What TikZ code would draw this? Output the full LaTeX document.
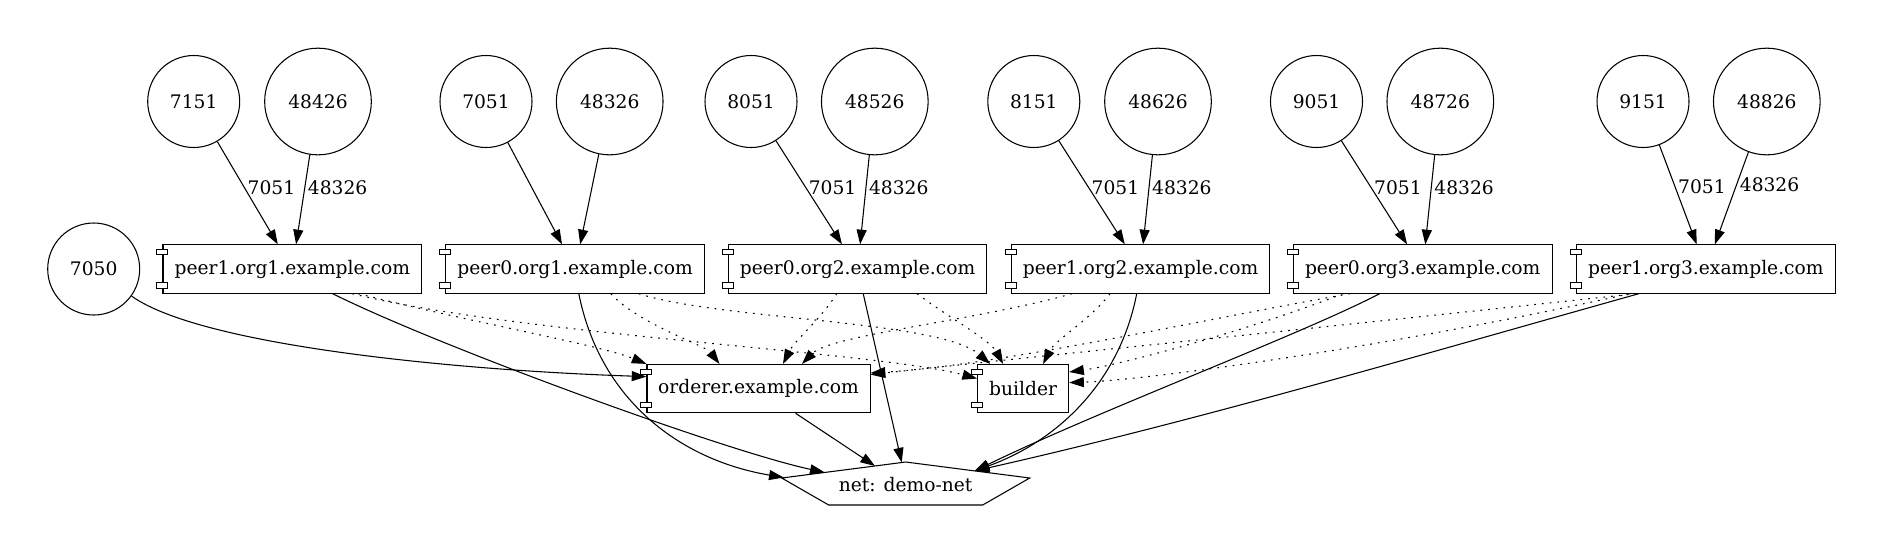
\documentclass[tikz,border=0pt]{standalone}
\usepackage{fontspec}
\setmainfont{DejaVu Serif}
\usetikzlibrary{arrows.meta,calc}

\begin{document}
\begin{tikzpicture}[x=0.75pt,y=-0.75pt,line width=.8pt,
			font=\fontsize{14pt}{17pt}\selectfont,
			port/.style={draw,circle,minimum size=69pt,inner sep=0pt},
			wport/.style={port,minimum size=80pt},
			comp/.style={draw,rectangle,minimum width=194pt,minimum height=36.2pt,inner sep=0pt,fill=white},
			link/.style={-{Triangle[length=11pt,width=7.5pt]}},
			dep/.style={link,dash pattern=on 1.3pt off 4.5pt},
			lbl/.style={anchor=west,inner sep=2pt}]
			\useasboundingbox (0,0) rectangle (1883,558);
			\node (p1o1) [comp] at (292.3,269) {peer1.org1.example.com};
			\node (p0o1) [comp] at (575.1,269) {peer0.org1.example.com};
			\node (p0o2) [comp] at (857.6,269) {peer0.org2.example.com};
			\node (p1o2) [comp] at (1140.5,269) {peer1.org2.example.com};
			\node (p0o3) [comp] at (1422.7,269) {peer0.org3.example.com};
			\node (p1o3) [comp] at (1705.9,269) {peer1.org3.example.com};
			\node (ord) [comp,minimum width=167.3pt] at (758.5,388.6) {orderer.example.com};
			\node (bld) [comp,minimum width=68.3pt] at (1023.1,388.6) {builder};
			\node (net) at (905.7,485) {net: demo-net};
			\draw ($(net)+(0,-23)$) -- ($(net)+(124,-7)$) -- ($(net)+(77,20)$)
				-- ($(net)+(-77,20)$) -- ($(net)+(-124,-7)$) -- cycle;
			\foreach \n in {p1o1,p0o1,p0o2,p1o2,p0o3,p1o3,ord,bld} {
				\draw[fill=white,line width=.7pt] ($(\n.north west)+(-5.5,5.2)$) rectangle ++(11,5.3);
				\draw[fill=white,line width=.7pt] ($(\n.south west)+(-5.5,-11)$) rectangle ++(11,5.3);
			}
			\foreach \a/\b/\xa/\xb in {7151/48426/193.7/318,7051/48326/486/609.7,
				8051/48526/751/874.8,8151/48626/1033.8/1158,
				9051/48726/1316.5/1440.3,9151/48826/1643/1766.8} {
				\node (c\a) [port] at (\xa,101.5) {\a};
				\node (c\b) [wport] at (\xb,101.5) {\b};
			}
			\node (c7050) [port] at (93.7,269) {7050};
			\draw[link] (c7151) -- node[lbl,pos=.45] {7051} (p1o1);
			\draw[link] (c48426) -- node[lbl,pos=.37] {48326} (p1o1);
			\draw[link] (c7051) -- (p0o1);
			\draw[link] (c48326) -- (p0o1);
			\draw[link] (c8051) -- node[lbl,pos=.45] {7051} (p0o2);
			\draw[link] (c48526) -- node[lbl,pos=.37] {48326} (p0o2);
			\draw[link] (c8151) -- node[lbl,pos=.45] {7051} (p1o2);
			\draw[link] (c48626) -- node[lbl,pos=.37] {48326} (p1o2);
			\draw[link] (c9051) -- node[lbl,pos=.45] {7051} (p0o3);
			\draw[link] (c48726) -- node[lbl,pos=.37] {48326} (p0o3);
			\draw[link] (c9151) -- node[lbl,pos=.42] {7051} (p1o3);
			\draw[link] (c48826) -- node[lbl,pos=.35] {48326} (p1o3);
			\draw[link] (c7050) .. controls (200,345) and (450,370) .. ($(ord.west)+(0,-12)$);
			\draw[dep] ($(p1o1.south)+(66,0)$) .. controls (470,322) and (600,345) .. (ord.north west);
			\draw[dep] ($(p1o1.south)+(60,0)$) .. controls (520,335) and (880,352) .. ($(bld.west)+(0,-10)$);
			\draw[dep] ($(p0o1.south)+(35.6,0)$) .. controls (640,325) and (705,345) .. ($(ord.north)+(-39,0)$);
			\draw[dep] ($(p0o1.south)+(63.7,0)$) .. controls (720,320) and (940,320) .. ($(bld.north)+(-33,0)$);
			\draw[dep] ($(p0o2.south)+(-20.8,0)$) .. controls (820,320) and (795,340) .. ($(ord.north)+(24.5,0)$);
			\draw[dep] ($(p0o2.south)+(59.4,0)$) .. controls (945,315) and (990,340) .. ($(bld.north)+(-20,0)$);
			\draw[dep] ($(p1o2.south)+(-68.5,0)$) .. controls (980,320) and (830,335) .. ($(ord.north)+(43.5,0)$);
			\draw[dep] ($(p1o2.south)+(-30.5,0)$) .. controls (1090,320) and (1055,340) .. ($(bld.north)+(20,0)$);
			\draw[dep] ($(p0o3.south)+(-72.7,0)$) .. controls (1200,320) and (1000,365) .. ($(ord.east)+(0,-15.6)$);
			\draw[dep] ($(p0o3.south)+(-79.7,0)$) .. controls (1250,330) and (1120,365) .. ($(bld.east)+(0,-16.6)$);
			\draw[dep] ($(p1o3.south)+(-76,0)$) .. controls (1400,345) and (1150,380) .. ($(bld.east)+(0,-6)$);
			\draw[dep] ($(p1o3.south)+(-70,0)$) .. controls (1300,330) and (1000,360) .. ($(ord.east)+(0,-14)$);
			\draw[link] ($(p1o1.south)+(40.3,0)$) .. controls (440,347) and (725,451) .. ($(net)+(-81,-12.6)$);
			\draw[link] ($(p0o1.south)+(3.7,0)$) .. controls (600,400) and (680,460) .. ($(net)+(-122,-7.5)$);
			\draw[link] (ord) -- ($(net)+(-30.7,-19)$);
			\draw[link] (p0o2) -- ($(net)+(-4,-22.5)$);
			\draw[link] ($(p1o2.south)+(-3.8,0)$) .. controls (1120,380) and (1060,440) .. ($(net)+(69,-14.1)$);
			\draw[link] ($(p0o3.south)+(-43,0)$) .. controls (1300,335) and (1100,410) .. ($(net)+(69,-14.1)$);
			\draw[link] ($(p1o3.south)+(-67,0)$) .. controls (1420,355) and (1200,420) .. ($(net)+(69,-14.1)$);
		\end{tikzpicture}
\end{document}
